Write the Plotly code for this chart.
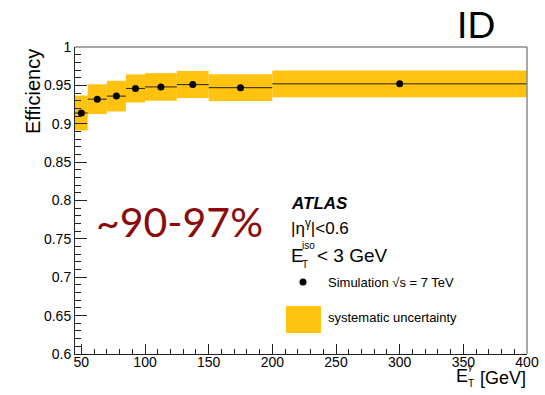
import plotly.graph_objects as go

# ---- data ----
bin_low = [45, 55, 70, 85, 100, 125, 150, 200]
bin_high = [55, 70, 85, 100, 125, 150, 200, 400]
efficiency = [0.914, 0.932, 0.936, 0.946, 0.948, 0.951, 0.947, 0.952]
syst_unc = [0.0228, 0.0194, 0.0200, 0.0183, 0.0180, 0.0176, 0.0174, 0.0175]

y_tickvals = [0.6, 0.65, 0.7, 0.75, 0.8, 0.85, 0.9, 0.95, 1.0]
y_ticktext = ["0.6", "0.65", "0.7", "0.75", "0.8", "0.85", "0.9", "0.95", "1"]
x_tickvals = [50, 100, 150, 200, 250, 300, 350, 400]
x_ticktext = ["50", "100", "150", "200", "250", "300", "350", "400"]

centers = [(a + b) / 2 for a, b in zip(bin_low, bin_high)]
widths = [b - a for a, b in zip(bin_low, bin_high)]
half_w = [w / 2 for w in widths]
box_base = [e - s for e, s in zip(efficiency, syst_unc)]
box_height = [2 * s for s in syst_unc]

YELLOW = "#FFC20E"
FONT = "Liberation Sans"

fig = go.Figure()
fig.add_trace(go.Bar(
    x=centers, y=box_height, base=box_base, width=widths,
    marker=dict(color=YELLOW, line=dict(width=0)),
    showlegend=False, hoverinfo="skip",
))
fig.add_trace(go.Scatter(
    x=centers, y=efficiency, mode="markers",
    marker=dict(color="black", size=7),
    error_x=dict(type="data", array=half_w, visible=True, thickness=1, width=0, color="#2a2200"),
    showlegend=False,
))

axis_font = dict(family=FONT, size=14, color="black")
fig.update_layout(
    template="none",
    width=545, height=395,
    margin=dict(l=75, r=18, t=47, b=41, pad=0),
    paper_bgcolor="white", plot_bgcolor="white",
    barmode="overlay",
    showlegend=False,
    xaxis=dict(
        range=[45, 400], tickvals=x_tickvals, ticktext=x_ticktext,
        ticks="inside", ticklen=10, tickcolor="#222", tickwidth=1,
        minor=dict(ticks="inside", dtick=10, tick0=50, ticklen=5, tickcolor="#222"),
        showline=True, linecolor="#222", linewidth=1, automargin=False,
        showgrid=False, zeroline=False, tickfont=axis_font, ticklabelstandoff=-5,
    ),
    yaxis=dict(
        range=[0.6, 1.0], tickvals=y_tickvals, ticktext=y_ticktext,
        ticks="inside", ticklen=12, tickcolor="#222", tickwidth=1,
        minor=dict(ticks="inside", dtick=0.01, tick0=0.6, ticklen=6, tickcolor="#222"),
        showline=True, linecolor="#222", linewidth=1, automargin=False,
        showgrid=False, zeroline=False, tickfont=axis_font,
    ),
)

# frame (top and right)
fig.add_shape(type="line", xref="paper", yref="paper", x0=0, x1=1, y0=1, y1=1,
              line=dict(color="#8a8a8a", width=1.5), layer="above")
fig.add_shape(type="line", xref="paper", yref="paper", x0=1, x1=1, y0=0, y1=1,
              line=dict(color="#8a8a8a", width=1.5), layer="above")

def ann(text, x, y, size, xanchor="left", color="black", family=FONT, angle=0):
    fig.add_annotation(text=text, x=x, y=y, xref="paper", yref="paper",
                       xanchor=xanchor, yanchor="middle", showarrow=False,
                       textangle=angle, borderpad=0,
                       font=dict(family=family, size=size, color=color))

# y title
ann("Efficiency", -0.094, 0.855, 20, xanchor="center", angle=-90)
# x title with stacked sub/superscript
ann("E", 0.840, -0.0717, 18)
ann("T", 0.867, -0.097, 10)
ann("γ", 0.867, -0.042, 9)
ann("[GeV]", 1.0, -0.0782, 18, xanchor="right")

# ID label
ann("ID", 0.8872, 1.0765, 37, xanchor="center", family="Lato")
# big red range
ann("~90-97%", 0.2323, 0.430, 41, xanchor="center", color="#8B0A0A", family="Lato")

# legend / labels block
ann("<b><i>ATLAS</i></b>", 0.476, 0.4886, 17)
ann("|η<sup>γ</sup>|<0.6", 0.476, 0.414, 17)
ann("E", 0.476, 0.3208, 19)
ann("iso", 0.5, 0.352, 10)
ann("T", 0.5, 0.293, 10)
ann("< 3 GeV", 0.5335, 0.3208, 19)

fig.add_shape(type="circle", xref="paper", yref="paper",
              xsizemode="pixel", ysizemode="pixel",
              xanchor=0.5044, yanchor=0.2345, x0=-3.5, x1=3.5, y0=-3.5, y1=3.5,
              fillcolor="black", line=dict(width=0), layer="above")
ann("Simulation √s = 7 TeV", 0.5575, 0.2345, 13)

fig.add_shape(type="rect", xref="paper", yref="paper",
              x0=0.4668, x1=0.5442, y0=0.0684, y1=0.1564,
              fillcolor=YELLOW, line=dict(width=0), layer="above")
ann("systematic uncertainty", 0.5575, 0.1205, 13)

fig.write_html("out.html", config={"displayModeBar": False},
               post_script="document.body.style.margin='0';document.body.style.padding='0';")
